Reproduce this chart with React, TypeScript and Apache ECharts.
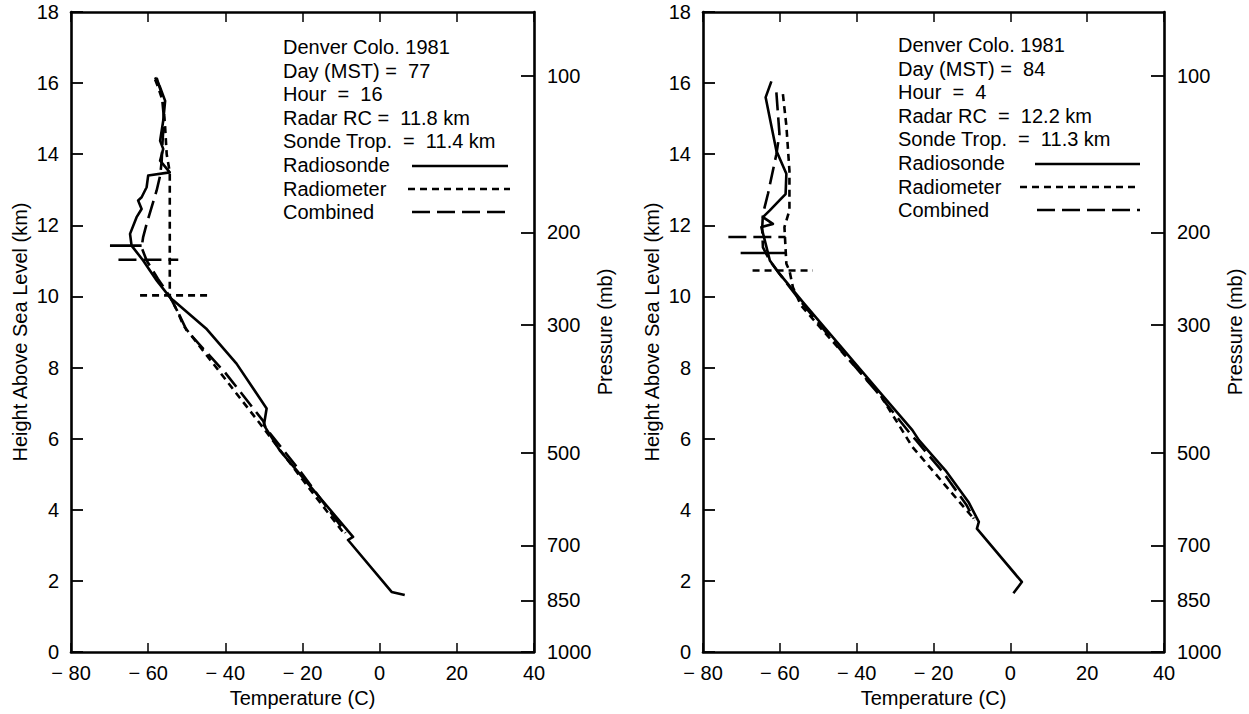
import React, { useEffect, useRef } from "react";
import * as echarts from "echarts";

const tempTicks = [-80, -60, -40, -20, 0, 20, 40];
const pressureLabels = ["100", "200", "300", "500", "700", "850", "1000"];
const pressureHeights = [16.2, 11.8, 9.2, 5.6, 3.0, 1.45, 0];

const leftInfo = ["Denver Colo. 1981", "Day (MST) =  77", "Hour  =  16", "Radar RC =  11.8 km", "Sonde Trop.  =  11.4 km"];
const rightInfo = ["Denver Colo. 1981", "Day (MST) =  84", "Hour  =  4", "Radar RC  =  12.2 km", "Sonde Trop.  =  11.3 km"];
const legendNames = ["Radiosonde", "Radiometer", "Combined"];

// Left panel (Day 77)
const leftRadiosonde = [
  [6.5, 1.6], [3.1, 1.69], [-8.2, 3.15], [-6.9, 3.24], [-25.9, 5.67], [-30.0, 6.38], [-29.3, 6.85],
  [-37.1, 8.11], [-45, 9.1], [-53.5, 9.89], [-54.4, 9.98], [-57.8, 10.45], [-61.3, 11.01], [-64.3, 11.43],
  [-64.7, 11.76], [-63.0, 12.23], [-61.7, 12.46], [-62.6, 12.7], [-61.7, 12.79], [-60.4, 13.07], [-60.0, 13.4],
  [-54.4, 13.49], [-56.9, 13.82], [-56.1, 14.15], [-56.9, 14.38], [-56.1, 14.94], [-55.6, 15.5], [-56.9, 15.88], [-58.2, 16.16],
];
const leftRadiometer = [
  [-58.2, 16.1], [-57.4, 15.88], [-56.1, 15.45], [-55.6, 14.76], [-55.2, 14.0], [-54.4, 13.49], [-54.4, 12.0],
  [-54.4, 10.0], [-52.5, 9.6], [-50.9, 9.19], [-31.0, 6.42], [-29.8, 6.25], [-20, 4.85], [-9.0, 3.3],
];
const leftCombined = [
  [-57.8, 16.15], [-56.5, 15.7], [-55.9, 15.0], [-56.3, 14.3], [-56.5, 13.8], [-56.9, 13.4], [-57.8, 12.98],
  [-59.1, 12.51], [-60.4, 12.04], [-61.3, 11.67], [-61.7, 11.38], [-60.4, 11.01], [-57.5, 10.5], [-54.4, 10.0],
  [-52, 9.5], [-50.0, 9.04], [-40, 7.85], [-30.2, 6.5], [-29.5, 6.3], [-20, 5.0], [-8.8, 3.35],
];
const leftSondeTrop = [[-69.9, 11.43], [-61.7, 11.43]];
const leftCombinedTrop = [[-67.7, 11.03], [-52.2, 11.03]];
const leftRadiometerTrop = [[-62.1, 10.03], [-44.4, 10.03]];

// Right panel (Day 84)
const rightRadiosonde = [
  [0.8, 1.65], [3.0, 1.97], [-8.7, 3.47], [-8.2, 3.66], [-10.9, 4.22], [-16.9, 5.11], [-23.8, 5.96],
  [-25.5, 6.24], [-34.4, 7.36], [-54.0, 9.84], [-60.1, 10.64], [-62.6, 11.01], [-63.9, 11.57], [-64.8, 11.95],
  [-61.8, 12.04], [-64.4, 12.23], [-62.6, 12.42], [-60.1, 12.7], [-58.5, 12.88], [-58.3, 13.45], [-60.9, 14.1],
  [-63.7, 15.6], [-62.2, 16.05],
];
const rightRadiometer = [
  [-59.2, 15.69], [-58.3, 14.8], [-57.5, 13.54], [-57.5, 12.42], [-58.8, 11.95], [-58.3, 10.92], [-57.5, 10.73],
  [-56.6, 10.26], [-54.5, 9.75], [-48.8, 9.04], [-34.1, 7.27], [-25.5, 5.77], [-9.2, 3.71],
];
const rightCombined = [
  [-60.9, 15.74], [-60.1, 14.57], [-60.9, 14.0], [-63.1, 12.88], [-64.4, 12.32], [-64.6, 11.9], [-64.4, 11.38],
  [-62.6, 11.0], [-60.1, 10.64], [-54.5, 9.85], [-45, 8.6], [-35, 7.35], [-26.5, 6.2], [-24.5, 5.95],
  [-17.5, 5.05], [-11.5, 4.15], [-9.5, 3.75],
];
const rightCombinedTrop = [[-73.4, 11.67], [-58.5, 11.67]];
const rightSondeTrop = [[-70.2, 11.22], [-58.3, 11.22]];
const rightRadiometerTrop = [[-67.1, 10.73], [-51.4, 10.73]];

const FONT = "'Liberation Sans', Arial, Helvetica, sans-serif";
const INK = "#000";
const LW = 2.6;
const SHORT_DASH = [7, 5];
const LONG_DASH = [18, 7];
const FS = 20;

const fmtTemp = (v: number) => (v < 0 ? "\u2212 " + Math.abs(v) : String(v));
const fmtPressure = (v: number) => {
  const i = pressureHeights.findIndex((h) => Math.abs(h - v) < 1e-6);
  return i >= 0 ? pressureLabels[i] : "";
};

function lineSeries(data: number[][], idx: number, dash: any) {
  return {
    type: "line",
    xAxisIndex: idx * 2,
    yAxisIndex: idx * 2,
    data,
    showSymbol: false,
    symbol: "none",
    silent: true,
    lineStyle: { color: INK, width: LW, type: dash, cap: "butt", join: "round" },
  };
}

function infoGraphics(lines: string[], x: number, y0: number, step: number, samples: number[][]) {
  const els: any[] = [];
  const all = [...lines, ...legendNames];
  all.forEach((t, i) => {
    els.push({
      type: "text",
      x,
      y: y0 + i * step,
      style: { text: t, font: `${FS}px ${FONT}`, fill: INK, textVerticalAlign: "middle" },
      silent: true,
    });
  });
  const dashes: any[] = [null, SHORT_DASH, LONG_DASH];
  samples.forEach((s, i) => {
    els.push({
      type: "line",
      shape: { x1: s[0], y1: s[2], x2: s[1], y2: s[2] },
      style: { stroke: INK, lineWidth: LW, lineDash: dashes[i] },
      silent: true,
    });
  });
  return els;
}

export default function App() {
  const ref = useRef<HTMLDivElement>(null);
  useEffect(() => {
    if (!ref.current) return;
    const chart = echarts.init(ref.current, null, { renderer: "svg" });
    const grids = [
      { left: 71, right: 1249 - 534, top: 12, bottom: 714 - 652 },
      { left: 703, right: 1249 - 1164, top: 12, bottom: 714 - 652 },
    ];
    const axisLine = { show: true, onZero: false, lineStyle: { color: INK, width: LW } };
    const labelStyle = { color: INK, fontSize: FS, fontFamily: FONT };
    const xAxes: any[] = [];
    const yAxes: any[] = [];
    [0, 1].forEach((g) => {
      xAxes.push({
        type: "value", gridIndex: g, position: "bottom", min: -80, max: 40, interval: 20,
        axisLine, splitLine: { show: false },
        axisTick: { show: true, inside: true, length: 9, lineStyle: { color: INK, width: 1.5 } },
        axisLabel: { ...labelStyle, margin: 11, formatter: fmtTemp, customValues: tempTicks },
        name: "Temperature (C)", nameLocation: "middle", nameGap: 35,
        nameTextStyle: { ...labelStyle },
      });
      xAxes.push({
        type: "value", gridIndex: g, position: "top", min: -80, max: 40, interval: 20,
        axisLine, splitLine: { show: false },
        axisTick: { show: true, inside: true, length: 10, lineStyle: { color: INK, width: 1.5 } },
        axisLabel: { show: false },
      });
      yAxes.push({
        type: "value", gridIndex: g, position: "left", min: 0, max: 18, interval: 2,
        axisLine, splitLine: { show: false },
        axisTick: { show: true, inside: true, length: 12, lineStyle: { color: INK, width: 1.8 } },
        axisLabel: { ...labelStyle, margin: 12 },
        name: "Height Above Sea Level (km)", nameLocation: "middle", nameGap: 41,
        nameTextStyle: { ...labelStyle },
      });
      yAxes.push({
        type: "value", gridIndex: g, position: "right", min: 0, max: 18,
        axisLine, splitLine: { show: false },
        axisTick: { show: true, inside: true, length: 13, customValues: pressureHeights, lineStyle: { color: INK, width: 1.8 } },
        axisLabel: { ...labelStyle, margin: 13, customValues: pressureHeights, formatter: fmtPressure },
        name: "Pressure (mb)", nameLocation: "middle", nameGap: 57, nameRotate: 90,
        nameTextStyle: { ...labelStyle },
      });
    });
    const series = [
      lineSeries(leftRadiosonde, 0, "solid"),
      lineSeries(leftRadiometer, 0, SHORT_DASH),
      lineSeries(leftCombined, 0, LONG_DASH),
      lineSeries(leftSondeTrop, 0, "solid"),
      lineSeries(leftCombinedTrop, 0, LONG_DASH),
      lineSeries(leftRadiometerTrop, 0, SHORT_DASH),
      lineSeries(rightRadiosonde, 1, "solid"),
      lineSeries(rightRadiometer, 1, SHORT_DASH),
      lineSeries(rightCombined, 1, LONG_DASH),
      lineSeries(rightSondeTrop, 1, "solid"),
      lineSeries(rightCombinedTrop, 1, LONG_DASH),
      lineSeries(rightRadiometerTrop, 1, SHORT_DASH),
    ];
    chart.setOption({
      animation: false,
      backgroundColor: "#fff",
      grid: grids,
      xAxis: xAxes,
      yAxis: yAxes,
      series,
      graphic: [
        ...infoGraphics(leftInfo, 283, 47, 23.6, [[412, 508, 166], [408, 510, 189], [412, 508, 212]]),
        ...infoGraphics(rightInfo, 898, 45, 23.6, [[1035, 1140, 164], [1020, 1140, 187], [1037, 1140, 210]]),
      ],
    });
    return () => chart.dispose();
  }, []);
  return <div ref={ref} style={{ position: "absolute", left: 0, top: 0, width: 1249, height: 714, background: "#fff" }} />;
}
